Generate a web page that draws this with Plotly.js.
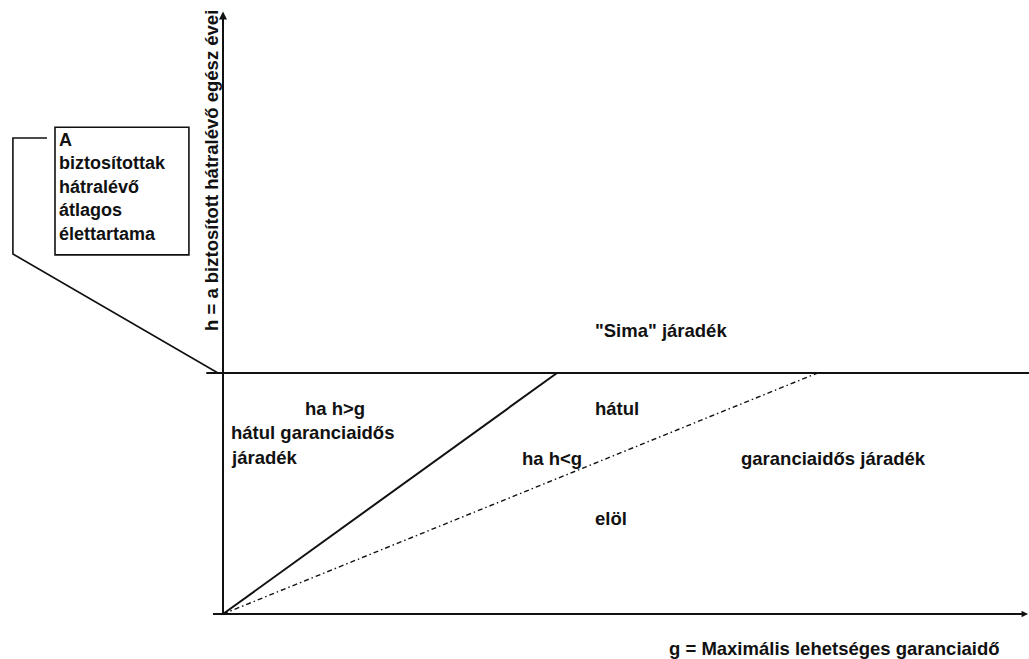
<!DOCTYPE html>
<html>
<head>
<meta charset="utf-8">
<script src="https://cdn.plot.ly/plotly-3.0.1.min.js"></script>
<style>html,body{margin:0;padding:0;background:#fff;}#chart{width:1029px;height:659px;}</style>
</head>
<body>
<div id="chart"></div>
<script>
// Conceptual diagram values (g = guarantee period, h = remaining lifetime)
const hLevel = 10;                       // average remaining lifetime h
const solidG = [0, 10];                  // boundary line g = h
const solidH = [0, 10];
const dashG = [0, 17.8];                 // dash-dot boundary
const dashH = [0, 10];
const hLineG = [-0.5, 24.2];
const hLineH = [hLevel, hLevel];
const xAxisG = [-0.3, 24.05];
const xAxisH = [0, 0];
const yAxisG = [0, 0];
const yAxisH = [0, 24.9];
const connectorG = [-5.27, -6.29, -6.29, -0.15];
const connectorH = [19.75, 19.75, 14.94, 10];
const boxG = [-5.03, -1.02];
const boxH = [14.9, 20.2];

const boxText = "A<br>biztosítottak<br>hátralévő<br>átlagos<br>élettartama";
const labels = [
  {t: '"Sima" járadék', px: 593, py: 330},
  {t: 'ha h>g', px: 303, py: 408},
  {t: 'hátul garanciaidős', px: 229, py: 432},
  {t: 'járadék', px: 229, py: 457},
  {t: 'ha h<g', px: 520, py: 458},
  {t: 'hátul', px: 593, py: 408},
  {t: 'garanciaidős járadék', px: 739, py: 458},
  {t: 'elöl', px: 593, py: 518}
];
const xTitle = "g = Maximális lehetséges garanciaidő";
const yTitle = "h = a biztosított hátralévő egész évei";

// pixel-to-axis helpers for label placement
const ox = 223, oy = 614, sx = 33.4, sy = 24.1;
const gx = p => (p - ox) / sx;
const hy = p => (oy - p) / sy;

const font = {family: "Liberation Sans, Arial, sans-serif", size: 18.5, color: "#111", weight: "bold"};
const boxFont = {family: "Liberation Sans, Arial, sans-serif", size: 18, color: "#111", weight: "bold"};
const line = (x, y, w, dash) => ({x, y, type: "scatter", mode: "lines", hoverinfo: "skip",
  line: {color: "#111", width: w, dash: dash || "solid"}, showlegend: false});

const data = [
  line(yAxisG, yAxisH, 2),
  line(xAxisG, xAxisH, 2),
  line(hLineG, hLineH, 2),
  line(solidG, solidH, 2),
  line(dashG, dashH, 1.4, "5px,3px,1.5px,3px"),
  line(connectorG, connectorH, 1.6)
];

const annotations = labels.map(l => ({x: gx(l.px), y: hy(l.py), text: l.t, showarrow: false,
  xanchor: "left", yanchor: "middle", font}));
annotations.push({x: boxG[0] + 0.05, y: boxH[1] - 0.02, text: boxText, showarrow: false,
  xanchor: "left", yanchor: "top", align: "left", font: boxFont});
annotations.push({x: gx(834), y: hy(648), text: xTitle, showarrow: false, xanchor: "center", yanchor: "middle", font});
annotations.push({x: gx(211), y: hy(171), text: yTitle, showarrow: false, textangle: -90, xanchor: "center", yanchor: "middle", font});
// arrowheads
annotations.push({x: 0, y: yAxisH[1] + 0.1, ax: 0, ay: yAxisH[1] - 0.5, axref: "x", ayref: "y", showarrow: true,
  arrowhead: 2, arrowsize: 1, arrowwidth: 1.6, arrowcolor: "#111", text: ""});
annotations.push({x: xAxisG[1] + 0.05, y: 0, ax: xAxisG[1] - 0.5, ay: 0, axref: "x", ayref: "y", showarrow: true,
  arrowhead: 2, arrowsize: 0.8, arrowwidth: 1.6, arrowcolor: "#111", text: ""});

const layout = {
  width: 1029, height: 659, margin: {l: 0, r: 0, t: 0, b: 0},
  paper_bgcolor: "#fff", plot_bgcolor: "#fff",
  xaxis: {range: [gx(0), gx(1029)], visible: false, fixedrange: true},
  yaxis: {range: [hy(659), hy(0)], visible: false, fixedrange: true},
  shapes: [{type: "rect", xref: "x", yref: "y", x0: boxG[0], x1: boxG[1], y0: boxH[0], y1: boxH[1],
    line: {color: "#111", width: 1.6}, fillcolor: "rgba(0,0,0,0)"}],
  annotations
};
Plotly.newPlot("chart", data, layout, {staticPlot: true, displayModeBar: false});
</script>
</body>
</html>
